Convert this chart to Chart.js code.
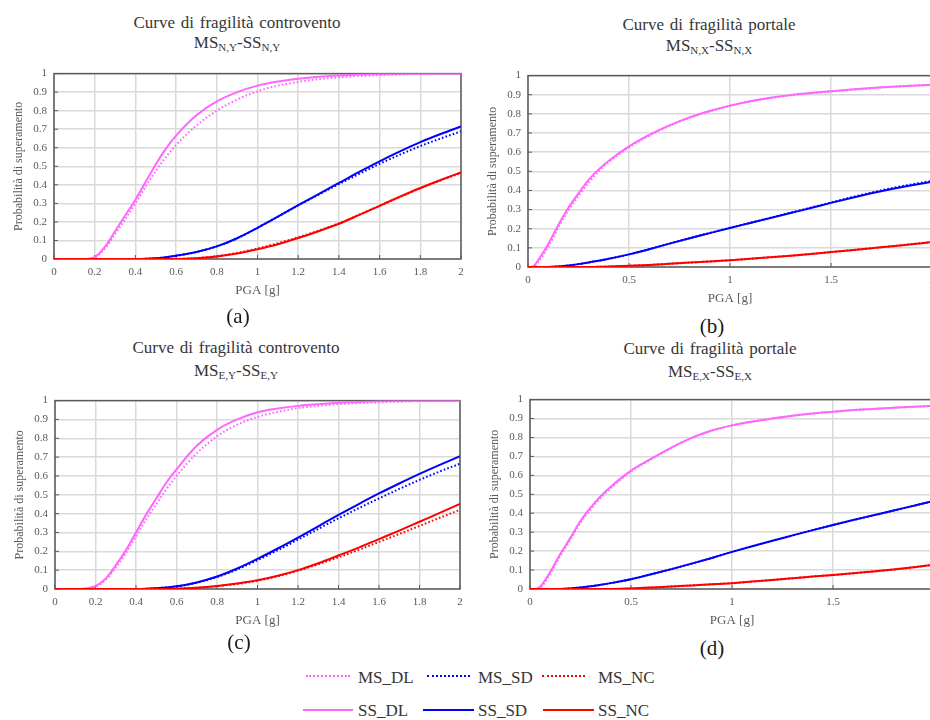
<!DOCTYPE html>
<html><head><meta charset="utf-8">
<script src="https://cdn.jsdelivr.net/npm/chart.js@4.4.1/dist/chart.umd.min.js"></script>
<style>
html,body{margin:0;padding:0;background:#fff;overflow:hidden;}
#wrap{position:relative;width:930px;height:720px;overflow:hidden;background:#fff;font-family:'Liberation Serif','Times New Roman',serif;}
canvas{position:absolute;}
.t{position:absolute;width:470px;text-align:center;font-size:17px;line-height:20px;color:#363636;white-space:nowrap;word-spacing:1.5px;z-index:2;}
.s{font-size:11px;vertical-align:-3px;word-spacing:0;}
.lab{position:absolute;width:60px;text-align:center;font-size:21px;line-height:24px;color:#1a1a1a;z-index:2;}
.lg{position:absolute;font-size:17px;line-height:17px;color:#363636;white-space:nowrap;}
.ln{position:absolute;height:0;}
</style></head>
<body>
<div id="wrap">
  <canvas id="ca" width="471" height="245" style="left:0px;top:60px;width:471px;height:245px"></canvas>
  <canvas id="cb" width="468" height="251" style="left:474px;top:62px;width:468px;height:251px"></canvas>
  <canvas id="cc" width="469" height="248" style="left:1px;top:387px;width:469px;height:248px"></canvas>
  <canvas id="cd" width="468" height="249" style="left:476px;top:386px;width:468px;height:249px"></canvas>

  <div class="t" style="left:2px;top:13px">Curve di fragilità controvento</div>
  <div class="t" style="left:2px;top:33px">MS<span class="s">N,Y</span>-SS<span class="s">N,Y</span></div>
  <div class="t" style="left:474px;top:15px">Curve di fragilità portale</div>
  <div class="t" style="left:474px;top:36px">MS<span class="s">N,X</span>-SS<span class="s">N,X</span></div>
  <div class="t" style="left:1px;top:338px">Curve di fragilità controvento</div>
  <div class="t" style="left:1px;top:361px">MS<span class="s">E,Y</span>-SS<span class="s">E,Y</span></div>
  <div class="t" style="left:475px;top:339px">Curve di fragilità portale</div>
  <div class="t" style="left:475px;top:362px">MS<span class="s">E,X</span>-SS<span class="s">E,X</span></div>

  <div class="lab" style="left:208px;top:304px">(a)</div>
  <div class="lab" style="left:682px;top:314px">(b)</div>
  <div class="lab" style="left:209px;top:630px">(c)</div>
  <div class="lab" style="left:682px;top:636px">(d)</div>

  <div class="ln" style="left:306px;top:675px;width:44px;border-top:2px dotted #FF66FF"></div>
  <div class="lg" style="left:358px;top:669px">MS_DL</div>
  <div class="ln" style="left:427px;top:675px;width:43px;border-top:2px dotted #0000FF"></div>
  <div class="lg" style="left:478px;top:669px">MS_SD</div>
  <div class="ln" style="left:542px;top:675px;width:43px;border-top:2px dotted #FF0000"></div>
  <div class="lg" style="left:598px;top:669px">MS_NC</div>

  <div class="ln" style="left:303px;top:709px;width:50px;border-top:2px solid #FF66FF"></div>
  <div class="lg" style="left:358px;top:702px">SS_DL</div>
  <div class="ln" style="left:423px;top:709px;width:51px;border-top:2px solid #0000FF"></div>
  <div class="lg" style="left:478px;top:702px">SS_SD</div>
  <div class="ln" style="left:543px;top:709px;width:51px;border-top:2px solid #FF0000"></div>
  <div class="lg" style="left:598px;top:702px">SS_NC</div>
</div>
<script>
// ---- tick values ----
const yTicks   = [0,0.1,0.2,0.3,0.4,0.5,0.6,0.7,0.8,0.9,1];
const xTicksAC = [0,0.2,0.4,0.6,0.8,1,1.2,1.4,1.6,1.8,2];
const xTicksBD = [0,0.5,1,1.5,2];

// ---- PGA sample points ----
const pgaAC = [0,0.1,0.15,0.2,0.25,0.3,0.35,0.4,0.45,0.5,0.55,0.6,0.7,0.8,0.9,1.0,1.1,1.2,1.3,1.4,1.5,1.6,1.7,1.8,1.9,2.0];
const pgaBD = [0,0.025,0.05,0.1,0.15,0.2,0.25,0.3,0.35,0.4,0.5,0.6,0.7,0.8,0.9,1.0,1.1,1.2,1.3,1.4,1.5,1.6,1.7,1.8,1.9,2.0];

// ---- (a) controvento N,Y ----
const a_SS_DL = [0,0,0,0.01,0.065,0.15,0.235,0.32,0.415,0.51,0.595,0.665,0.775,0.85,0.90,0.935,0.957,0.972,0.983,0.99,0.995,0.998,1,1,1,1];
const a_MS_DL = [0,0,0,0.008,0.055,0.135,0.215,0.30,0.39,0.475,0.55,0.615,0.72,0.80,0.86,0.905,0.935,0.955,0.97,0.98,0.987,0.992,0.995,0.998,0.999,1];
const a_SS_SD = [0,0,0,0,0,0,0,0,0.001,0.004,0.01,0.018,0.038,0.068,0.112,0.168,0.228,0.29,0.35,0.41,0.47,0.527,0.58,0.63,0.674,0.715];
const a_MS_SD = [0,0,0,0,0,0,0,0,0.001,0.004,0.01,0.018,0.038,0.068,0.112,0.168,0.228,0.289,0.347,0.404,0.459,0.513,0.563,0.609,0.65,0.688];
const a_SS_NC = [0,0,0,0,0,0,0,0,0,0,0,0,0.004,0.014,0.03,0.053,0.08,0.113,0.15,0.19,0.238,0.287,0.336,0.383,0.426,0.467];
const a_MS_NC = [0,0,0,0,0,0,0,0,0,0,0,0,0.005,0.016,0.033,0.057,0.085,0.117,0.153,0.192,0.239,0.287,0.335,0.381,0.424,0.464];

// ---- (b) portale N,X ----
const b_SS_DL = [0,0.003,0.035,0.12,0.22,0.31,0.385,0.455,0.51,0.555,0.63,0.69,0.74,0.782,0.815,0.843,0.866,0.884,0.898,0.909,0.918,0.927,0.935,0.942,0.947,0.952];
const b_MS_DL = [0,0,0.025,0.105,0.205,0.295,0.37,0.44,0.5,0.548,0.625,0.686,0.737,0.78,0.813,0.842,0.865,0.883,0.897,0.908,0.917,0.926,0.934,0.941,0.947,0.952];
const b_SS_SD = [0,0,0,0,0.003,0.008,0.015,0.024,0.033,0.043,0.066,0.093,0.122,0.15,0.177,0.204,0.23,0.256,0.282,0.308,0.335,0.361,0.385,0.407,0.427,0.445];
const b_MS_SD = [0,0,0,0,0.003,0.008,0.015,0.024,0.033,0.043,0.066,0.093,0.122,0.15,0.178,0.205,0.231,0.257,0.284,0.31,0.337,0.364,0.389,0.412,0.432,0.45];
const b_SS_NC = [0,0,0,0,0,0,0,0,0.001,0.002,0.006,0.011,0.017,0.023,0.029,0.035,0.043,0.051,0.059,0.068,0.078,0.088,0.098,0.108,0.119,0.13];
const b_MS_NC = [0,0,0,0,0,0,0,0,0.001,0.002,0.006,0.011,0.017,0.023,0.029,0.035,0.043,0.051,0.059,0.068,0.078,0.088,0.098,0.108,0.12,0.131];

// ---- (c) controvento E,Y ----
const c_SS_DL = [0,0,0.003,0.015,0.055,0.125,0.205,0.30,0.395,0.48,0.565,0.635,0.76,0.845,0.90,0.938,0.958,0.972,0.981,0.988,0.993,0.996,0.998,1,1,1];
const c_MS_DL = [0,0,0.002,0.012,0.048,0.113,0.19,0.28,0.37,0.45,0.53,0.60,0.72,0.81,0.873,0.913,0.94,0.96,0.972,0.981,0.987,0.991,0.994,0.997,0.999,1];
const c_SS_SD = [0,0,0,0,0,0,0,0,0.001,0.004,0.008,0.014,0.035,0.066,0.109,0.16,0.215,0.273,0.333,0.393,0.451,0.507,0.56,0.611,0.659,0.705];
const c_MS_SD = [0,0,0,0,0,0,0,0,0.001,0.004,0.008,0.013,0.033,0.063,0.104,0.153,0.206,0.262,0.319,0.375,0.429,0.481,0.531,0.579,0.624,0.665];
const c_SS_NC = [0,0,0,0,0,0,0,0,0,0,0,0.002,0.007,0.016,0.029,0.046,0.07,0.10,0.137,0.178,0.22,0.265,0.31,0.357,0.404,0.452];
const c_MS_NC = [0,0,0,0,0,0,0,0,0,0,0,0.002,0.007,0.015,0.027,0.044,0.067,0.097,0.131,0.168,0.208,0.25,0.292,0.335,0.378,0.42];

// ---- (d) portale E,X ----
const d_SS_DL = [0,0,0.012,0.09,0.185,0.27,0.36,0.43,0.49,0.54,0.625,0.688,0.747,0.798,0.837,0.864,0.884,0.90,0.915,0.927,0.936,0.945,0.951,0.957,0.962,0.967];
const d_MS_DL = [0,0,0.006,0.08,0.175,0.26,0.35,0.42,0.48,0.533,0.62,0.685,0.745,0.797,0.836,0.863,0.883,0.9,0.915,0.927,0.936,0.945,0.951,0.957,0.962,0.967];
const d_SS_SD = [0,0,0,0,0,0.003,0.008,0.014,0.022,0.031,0.052,0.078,0.105,0.134,0.164,0.196,0.226,0.255,0.283,0.311,0.338,0.364,0.389,0.414,0.44,0.465];
const d_MS_SD = [0,0,0,0,0,0.003,0.008,0.014,0.022,0.031,0.052,0.078,0.105,0.134,0.164,0.196,0.226,0.255,0.283,0.311,0.338,0.364,0.389,0.414,0.44,0.465];
const d_SS_NC = [0,0,0,0,0,0,0,0,0,0,0.003,0.008,0.013,0.019,0.025,0.031,0.039,0.048,0.057,0.066,0.074,0.083,0.093,0.103,0.115,0.128];
const d_MS_NC = [0,0,0,0,0,0,0,0,0,0,0.003,0.008,0.013,0.019,0.025,0.031,0.039,0.048,0.057,0.066,0.074,0.083,0.093,0.103,0.115,0.128];

const COL = {DL:'#FF66FF', SD:'#0000FF', NC:'#FF0000'};
const FONT = "'Liberation Serif', 'Times New Roman', serif";
Chart.defaults.font.family = FONT;

const frame = {
  id:'frame',
  beforeDatasetsDraw(chart){
    const {ctx, chartArea:{left,right,top,bottom}, scales:{x,y}} = chart;
    ctx.save();
    ctx.strokeStyle = '#5a5a5a';
    ctx.lineWidth = 1.5;
    ctx.strokeRect(left, top, right-left, bottom-top);
    ctx.lineWidth = 1;
    ctx.beginPath();
    x.ticks.forEach(t => { const p = x.getPixelForValue(t.value); ctx.moveTo(p, bottom); ctx.lineTo(p, bottom-4); });
    y.ticks.forEach(t => { const p = y.getPixelForValue(t.value); ctx.moveTo(left, p); ctx.lineTo(left+4, p); });
    ctx.stroke();
    ctx.restore();
  }
};

function pts(xs, ys){ return xs.map((v,i)=>({x:v, y:ys[i]})); }

function makeChart(id, xs, xTickVals, s){
  const ds = (label, ys, color, dotted) => ({
    label, data: pts(xs, ys), borderColor: color, backgroundColor: color,
    borderWidth: 2, pointRadius: 0, cubicInterpolationMode: 'monotone',
    borderDash: dotted ? [1.6, 2.2] : [], fill: false
  });
  new Chart(document.getElementById(id), {
    type: 'line',
    data: { datasets: [
      ds('SS_NC', s.ssNC, COL.NC, false),
      ds('SS_SD', s.ssSD, COL.SD, false),
      ds('SS_DL', s.ssDL, COL.DL, false),
      ds('MS_NC', s.msNC, COL.NC, true),
      ds('MS_SD', s.msSD, COL.SD, true),
      ds('MS_DL', s.msDL, COL.DL, true)
    ]},
    options: {
      responsive: false, devicePixelRatio: 1, animation: false,
      layout: { padding: {top:10, right:10, left:0, bottom:0} },
      plugins: { legend: {display:false}, tooltip: {enabled:false} },
      scales: {
        x: {
          type: 'linear', min: 0, max: 2,
          afterBuildTicks: sc => { sc.ticks = xTickVals.map(v => ({value: v})); },
          afterFit: sc => { sc.height = 46; },
          grid: { color: '#d9d9d9', lineWidth: 1.5, drawTicks: false },
          border: { display: false },
          ticks: { autoSkip: false, maxRotation: 0, padding: 7, color: '#595959',
                   font: {family: FONT, size: 11}, callback: v => String(v) },
          title: { display: true, text: 'PGA [g]', color: '#595959',
                   font: {family: FONT, size: 13}, padding: {top:0, bottom:7} }
        },
        y: {
          type: 'linear', min: 0, max: 1,
          afterBuildTicks: sc => { sc.ticks = yTicks.map(v => ({value: v})); },
          afterFit: sc => { sc.width = 54; },
          grid: { color: '#d9d9d9', lineWidth: 1.5, drawTicks: false },
          border: { display: false },
          ticks: { autoSkip: false, padding: 7, color: '#595959',
                   font: {family: FONT, size: 11}, callback: v => String(v) },
          title: { display: true, text: 'Probabilità di superamento', color: '#595959',
                   font: {family: FONT, size: 12}, padding: {top:12, bottom:0} }
        }
      }
    },
    plugins: [frame]
  });
}

makeChart('ca', pgaAC, xTicksAC, {ssDL:a_SS_DL, msDL:a_MS_DL, ssSD:a_SS_SD, msSD:a_MS_SD, ssNC:a_SS_NC, msNC:a_MS_NC});
makeChart('cb', pgaBD, xTicksBD, {ssDL:b_SS_DL, msDL:b_MS_DL, ssSD:b_SS_SD, msSD:b_MS_SD, ssNC:b_SS_NC, msNC:b_MS_NC});
makeChart('cc', pgaAC, xTicksAC, {ssDL:c_SS_DL, msDL:c_MS_DL, ssSD:c_SS_SD, msSD:c_MS_SD, ssNC:c_SS_NC, msNC:c_MS_NC});
makeChart('cd', pgaBD, xTicksBD, {ssDL:d_SS_DL, msDL:d_MS_DL, ssSD:d_SS_SD, msSD:d_MS_SD, ssNC:d_SS_NC, msNC:d_MS_NC});
</script>
</body></html>
